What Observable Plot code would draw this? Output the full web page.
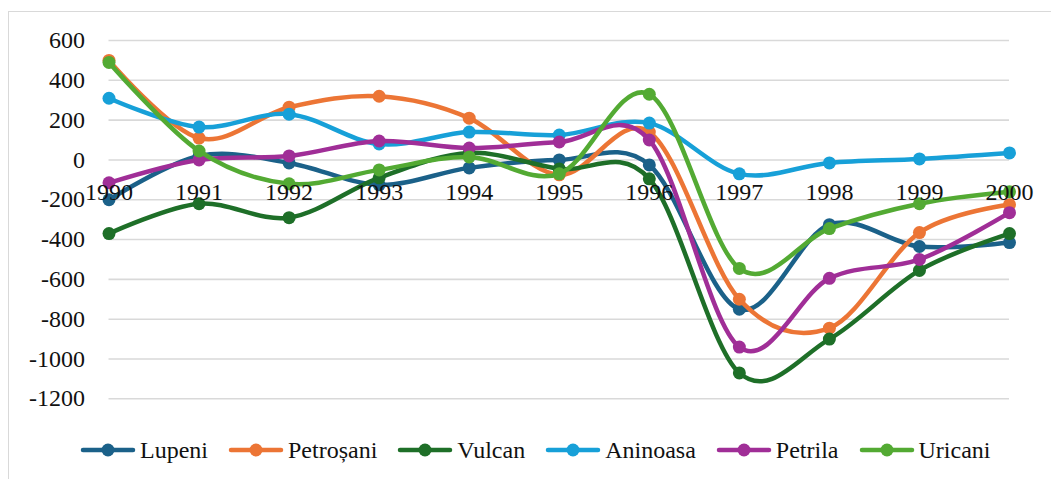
<!DOCTYPE html>
<html>
<head>
<meta charset="utf-8">
<script src="https://cdn.jsdelivr.net/npm/d3@7"></script>
<script src="https://cdn.jsdelivr.net/npm/@observablehq/plot@0.6"></script>
<style>
  html, body { margin: 0; padding: 0; background: #fff; width: 1051px; height: 479px; overflow: hidden; }
  #frame { position: absolute; left: 8px; top: 11px; width: 1100px; height: 520px; border: 1px solid #d9d9d9; box-sizing: border-box; }
  #chart { position: absolute; left: 0; top: 0; }
  #legend { position: absolute; left: 80px; top: 434px; height: 32px; display: flex; align-items: center;
            font-family: "Liberation Serif", "Times New Roman", Tinos, "DejaVu Serif", serif; font-size: 24px; color: #111; white-space: nowrap; }
  .item { display: flex; align-items: center; margin-right: 20px; }
  .item svg { margin-right: 4px; }
  #chart svg text { font-family: "Liberation Serif", "Times New Roman", Tinos, "DejaVu Serif", serif !important; }
</style>
</head>
<body>
<div id="frame"></div>
<div id="chart"></div>
<div id="legend"></div>
<script>
const years = [1990, 1991, 1992, 1993, 1994, 1995, 1996, 1997, 1998, 1999, 2000];
const seriesNames = ["Lupeni", "Petroșani", "Vulcan", "Aninoasa", "Petrila", "Uricani"];
const lupeni    = [-200,  20,  -15, -125, -40,   0,  -25,  -750, -325, -435, -415];
const petrosani = [ 500, 110,  265,  320, 210, -75,  140,  -700, -845, -365, -225];
const vulcan    = [-370, -220, -290, -90,  35, -45,  -95, -1070, -900, -555, -370];
const aninoasa  = [ 310, 165,  230,   80, 140, 125,  185,   -70,  -15,    5,   35];
const petrila   = [-115,   0,   20,   95,  60,  90,  100,  -940, -595, -500, -265];
const uricani   = [ 490,  45, -120,  -50,  15, -70,  330,  -545, -345, -220, -160];
const seriesValues = [lupeni, petrosani, vulcan, aninoasa, petrila, uricani];
const colors = ["#1b6189", "#ec7535", "#1e6f28", "#17a0d8", "#a02e97", "#53aa33"];
const yTicks = [600, 400, 200, 0, -200, -400, -600, -800, -1000, -1200];

const font = '"Liberation Serif", "Times New Roman", Tinos, "DejaVu Serif", serif';

const marks = [
  Plot.ruleY(yTicks, {x1: years[0], x2: years[years.length - 1], stroke: "#d9d9d9", strokeWidth: 1.6}),
  Plot.axisY(yTicks, {tickSize: 0, tickPadding: 24, tickFormat: d => String(d), fontSize: 24, fill: "#111", label: null, fontFamily: font})
];
seriesValues.forEach((vals, i) => {
  const data = years.map((yr, j) => ({year: yr, value: vals[j], series: seriesNames[i]}));
  marks.push(Plot.line(data, {x: "year", y: "value", stroke: colors[i], strokeWidth: 4.5,
    curve: "cardinal", tension: 0, strokeLinecap: "round", strokeLinejoin: "round"}));
  marks.push(Plot.dot(data, {x: "year", y: "value", fill: colors[i], r: 6.5, stroke: "none"}));
});
marks.push(Plot.text(years, {x: d => d, y: 0, text: d => String(d), dy: 32, fontSize: 24, fill: "#111",
  lineAnchor: "middle", textAnchor: "middle", fontFamily: font}));

const chart = Plot.plot({
  width: 1051,
  height: 430,
  marginLeft: 108.5,
  marginRight: 42,
  marginTop: 40,
  marginBottom: 31.7,
  style: {fontFamily: font, background: "transparent"},
  x: {domain: [1990, 2000], axis: null},
  y: {domain: [-1200, 600], axis: null},
  marks
});
document.getElementById("chart").appendChild(chart);

const legend = document.getElementById("legend");
seriesNames.forEach((name, i) => {
  const item = document.createElement("div");
  item.className = "item";
  item.innerHTML = `<svg width="56" height="16"><line x1="3" y1="8" x2="53" y2="8" stroke="${colors[i]}" stroke-width="4.5" stroke-linecap="round"/><circle cx="28" cy="8" r="6.5" fill="${colors[i]}"/></svg><span>${name}</span>`;
  legend.appendChild(item);
});
</script>
</body>
</html>
